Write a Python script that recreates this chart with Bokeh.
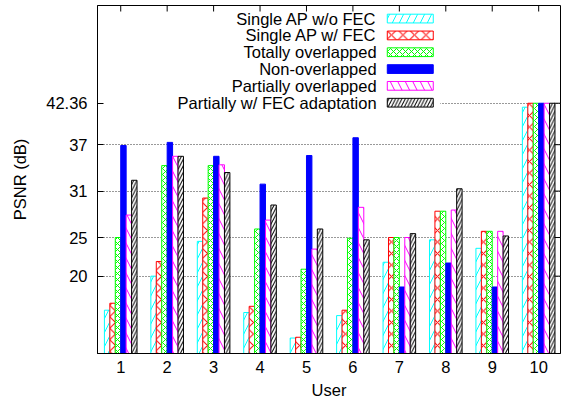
from bokeh.plotting import figure
from bokeh.models import FixedTicker, Range1d
from bokeh.embed import file_html
from bokeh.resources import INLINE
from bokeh.core.properties import value

# ---- data ----
users = [1, 2, 3, 4, 5, 6, 7, 8, 9, 10]
user_labels = ["1", "2", "3", "4", "5", "6", "7", "8", "9", "10"]
series_names = ["Single AP w/o FEC", "Single AP w/ FEC", "Totally overlapped",
                "Non-overlapped", "Partially overlapped", "Partially w/ FEC adaptation"]
single_wo_fec = [15.6, 20.0, 24.5, 15.3, 12.0, 14.9, 21.8, 24.7, 23.6, 41.85]
single_w_fec = [16.5, 21.9, 30.1, 16.1, 12.1, 15.6, 25.0, 28.4, 25.8, 42.36]
totally_overlapped = [25.0, 34.3, 34.3, 26.1, 20.9, 24.9, 25.0, 28.4, 25.8, 42.36]
non_overlapped = [36.9, 37.3, 35.5, 31.9, 35.6, 37.9, 18.6, 21.7, 18.6, 42.36]
partially_overlapped = [27.9, 35.5, 34.4, 27.25, 23.5, 28.9, 25.0, 28.55, 25.8, 42.36]
partially_fec_adapt = [32.4, 35.5, 33.4, 29.2, 26.1, 24.7, 25.5, 31.3, 25.2, 42.36]
y_ticks = [20, 25, 31, 37, 42.36]
y_tick_labels = ["20", "25", "31", "37", "42.36"]
x_title = "User"
y_title = "PSNR (dB)"

series_values = [single_wo_fec, single_w_fec, totally_overlapped,
                 non_overlapped, partially_overlapped, partially_fec_adapt]

# ---- styles ----
styles = [
    dict(line_color="#00ffff", fill_color="white", hatch_pattern="/", hatch_color="#00ffff", hatch_scale=14),
    dict(line_color="#ff0000", fill_color="white", hatch_pattern="x", hatch_color="#ff0000", hatch_scale=11.5),
    dict(line_color="#00ff00", fill_color="white", hatch_pattern="x", hatch_color="#00ff00", hatch_scale=6),
    dict(line_color="#0000ff", fill_color="#0000ff"),
    dict(line_color="#ff00ff", fill_color="white", hatch_pattern="\\", hatch_color="#ff00ff", hatch_scale=15),
    dict(line_color="#000000", fill_color="white", hatch_pattern="/", hatch_color="#000000", hatch_scale=6.5),
]

FONT = "Liberation Sans"
FS = "16.5px"
Y0, Y1 = 10, 55
X0, X1 = 0.5, 10.47
BAR_W = 0.117
PLOT_W, PLOT_H = 561, 402
B_LEFT, B_RIGHT, B_TOP, B_BOTTOM = 97, 1, 5, 49
TICK_PX = 6
frame_w = PLOT_W - B_LEFT - B_RIGHT
frame_h = PLOT_H - B_TOP - B_BOTTOM

p = figure(width=PLOT_W, height=PLOT_H, output_backend="svg", toolbar_location=None,
           x_range=Range1d(X0, X1), y_range=Range1d(Y0, Y1),
           min_border_left=B_LEFT, min_border_right=B_RIGHT,
           min_border_top=B_TOP, min_border_bottom=B_BOTTOM)
p.background_fill_color = "white"
p.border_fill_color = "white"
p.outline_line_color = "black"
p.outline_line_width = 1

# grid
p.xgrid.visible = False
p.ygrid.ticker = FixedTicker(ticks=y_ticks)
p.ygrid.grid_line_color = "#333333"
p.ygrid.grid_line_dash = "1 2"
p.ygrid.grid_line_width = 1

# axes
for ax in (p.xaxis[0], p.yaxis[0]):
    ax.axis_line_color = "black"
    ax.major_tick_line_color = "black"
    ax.minor_tick_line_color = None
    ax.major_tick_out = 0
    ax.major_label_text_font = FONT
    ax.major_label_text_font_size = FS
    ax.major_label_text_color = "black"
    ax.axis_label_text_font = FONT
    ax.axis_label_text_font_size = FS
    ax.axis_label_text_font_style = "normal"
    ax.axis_label_text_color = "black"

p.yaxis[0].ticker = FixedTicker(ticks=y_ticks)
p.yaxis[0].major_label_overrides = {t: l for t, l in zip(y_ticks, y_tick_labels)}
p.yaxis[0].major_tick_in = TICK_PX
p.yaxis[0].major_label_standoff = 10
p.yaxis[0].axis_label = y_title
p.yaxis[0].axis_label_standoff = 14

p.xaxis[0].ticker = FixedTicker(ticks=users)
p.xaxis[0].major_label_overrides = {u: l for u, l in zip(users, user_labels)}
p.xaxis[0].major_tick_in = 0
p.xaxis[0].major_label_standoff = 7
p.xaxis[0].axis_label = x_title
p.xaxis[0].axis_label_standoff = 5

# bars
n = len(series_values)
for i, (vals, st) in enumerate(zip(series_values, styles)):
    off = (i - (n - 1) / 2) * BAR_W
    xs = [u + off for u in users]
    p.vbar(x=xs, top=vals, bottom=Y0, width=BAR_W, line_width=1, **st)

# legend (gnuplot style: text left, swatch right)
p.quad(left=X0, right=7.88, bottom=41.6, top=54.6, fill_color="white", line_alpha=0)
leg_rows = [53.31, 51.13, 48.96, 46.78, 44.61, 42.43]
leg_text_x = 6.51
leg_box_x = 7.235
leg_box_w = 0.99
leg_box_h = 1.13
p.text(x=[leg_text_x] * n, y=leg_rows, text=series_names, text_align="right",
       text_baseline="middle", text_font=value(FONT), text_font_size=FS, text_color="black")
for i, st in enumerate(styles):
    p.rect(x=[leg_box_x], y=[leg_rows[i]], width=leg_box_w, height=leg_box_h, line_width=1, **st)

# mirrored ticks on top and right borders (gnuplot style), length in pixels
dx = TICK_PX * (X1 - X0) / frame_w
dy = TICK_PX * (Y1 - Y0) / frame_h
p.segment(x0=users, x1=users, y0=[Y1] * len(users), y1=[Y1 - dy] * len(users),
          line_color="black", line_width=1)
p.segment(x0=[X1] * len(y_ticks), x1=[X1 - dx] * len(y_ticks), y0=y_ticks, y1=y_ticks,
          line_color="black", line_width=1)

open("out.html", "w").write(file_html(p, INLINE))
